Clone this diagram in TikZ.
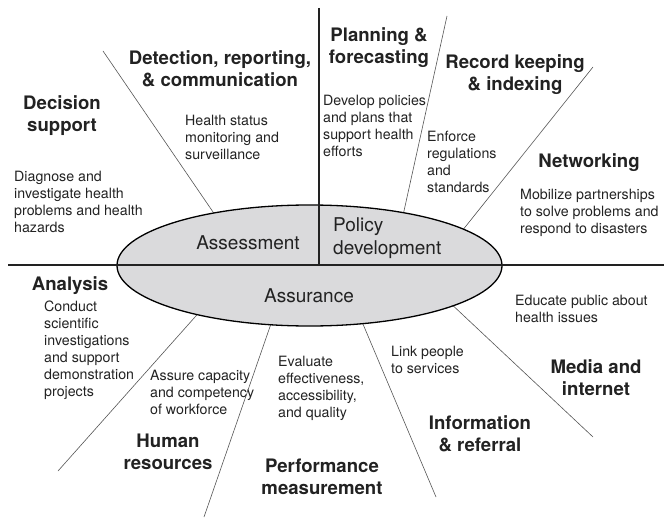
\documentclass[tikz,border=0pt]{standalone}
\usepackage{fontspec}
\setmainfont{TeX Gyre Heros}
\definecolor{txt}{HTML}{222222}
\definecolor{ellgray}{HTML}{DADADC}
\definecolor{thin}{HTML}{555555}
\tikzset{
  body/.style={font=\fontsize{14.2}{17}\selectfont, align=left, inner sep=0pt, anchor=west, text=txt},
  title/.style={font=\fontsize{18.6}{22}\selectfont\bfseries, align=center, inner sep=0pt, text=txt},
  elab/.style={font=\fontsize{19}{22.7}\selectfont, inner sep=0pt, text=txt},
  spoke/.style={draw=thin, line width=0.6pt},
  axis/.style={draw=txt, line width=1.1pt}
}
\begin{document}
\begin{tikzpicture}[x=1pt,y=-1pt]
\useasboundingbox (0,0) rectangle (671,521);
% spoke end points
\coordinate (s1a) at (103,51);  \coordinate (s1b) at (218.5,220);
\coordinate (s2a) at (447,16);  \coordinate (s2b) at (402,220);
\coordinate (s3a) at (593,67);  \coordinate (s3b) at (458,236);
\coordinate (s4a) at (58,471);  \coordinate (s4b) at (203,308);
\coordinate (s5a) at (204,517); \coordinate (s5b) at (273,318);
\coordinate (s6a) at (436,497); \coordinate (s6b) at (360,317);
\coordinate (s7a) at (593,437); \coordinate (s7b) at (447,300);
\foreach \i in {1,...,7} \draw[spoke] (s\i a) -- (s\i b);
% central ellipse
\coordinate (ctr) at (309.5,265.5);
\draw[fill=ellgray, draw=black, line width=1.3pt] (ctr) ellipse [x radius=192.5, y radius=60.5];
% axes
\coordinate (hl) at (8,265);  \coordinate (hr) at (664,265);
\coordinate (vt) at (319,8);  \coordinate (vb) at (319,265);
\draw[axis] (hl) -- (hr);
\draw[axis] (vt) -- (vb);
% ellipse labels
\node[elab] (assess) at (248,243) {Assessment};
\node[elab, align=left, anchor=west] (policy) at (333,238) {Policy\\development};
\node[elab] (assure) at (309,296) {Assurance};
% titles
\node[title] (detect) at (220,69) {Detection, reporting,\\\& communication};
\node[title] (decision) at (62,116) {Decision\\support};
\node[title] (plan) at (379,48) {Planning \&\\forecasting};
\node[title] (record) at (515,75) {Record keeping\\\& indexing};
\node[title] (network) at (589,163) {Networking};
\node[title] (analysis) at (70,286) {Analysis};
\node[title] (human) at (168,452) {Human\\resources};
\node[title] (perf) at (322,477) {Performance\\measurement};
\node[title] (info) at (480,434) {Information\\\& referral};
\node[title] (media) at (596,378) {Media and\\internet};
% descriptions
\node[body] (dhealth) at (185,137) {Health status\\monitoring and\\surveillance};
\node[body] (ddiag) at (14,202) {Diagnose and\\investigate health\\problems and health\\hazards};
\node[body] (ddev) at (323,126) {Develop policies\\and plans that\\support health\\efforts};
\node[body] (denf) at (427,162) {Enforce\\regulations\\and\\standards};
\node[body] (dmob) at (520,213) {Mobilize partnerships\\to solve problems and\\respond to disasters};
\node[body] (dcond) at (44,350) {Conduct\\scientific\\investigations\\and support\\demonstration\\projects};
\node[body] (dassure) at (150,392) {Assure capacity\\and competency\\of workforce};
\node[body] (deval) at (278,388) {Evaluate\\effectiveness,\\accessibility,\\and quality};
\node[body] (dlink) at (391,360) {Link people\\to services};
\node[body] (dedu) at (515,309) {Educate public about\\health issues};
\end{tikzpicture}
\end{document}
